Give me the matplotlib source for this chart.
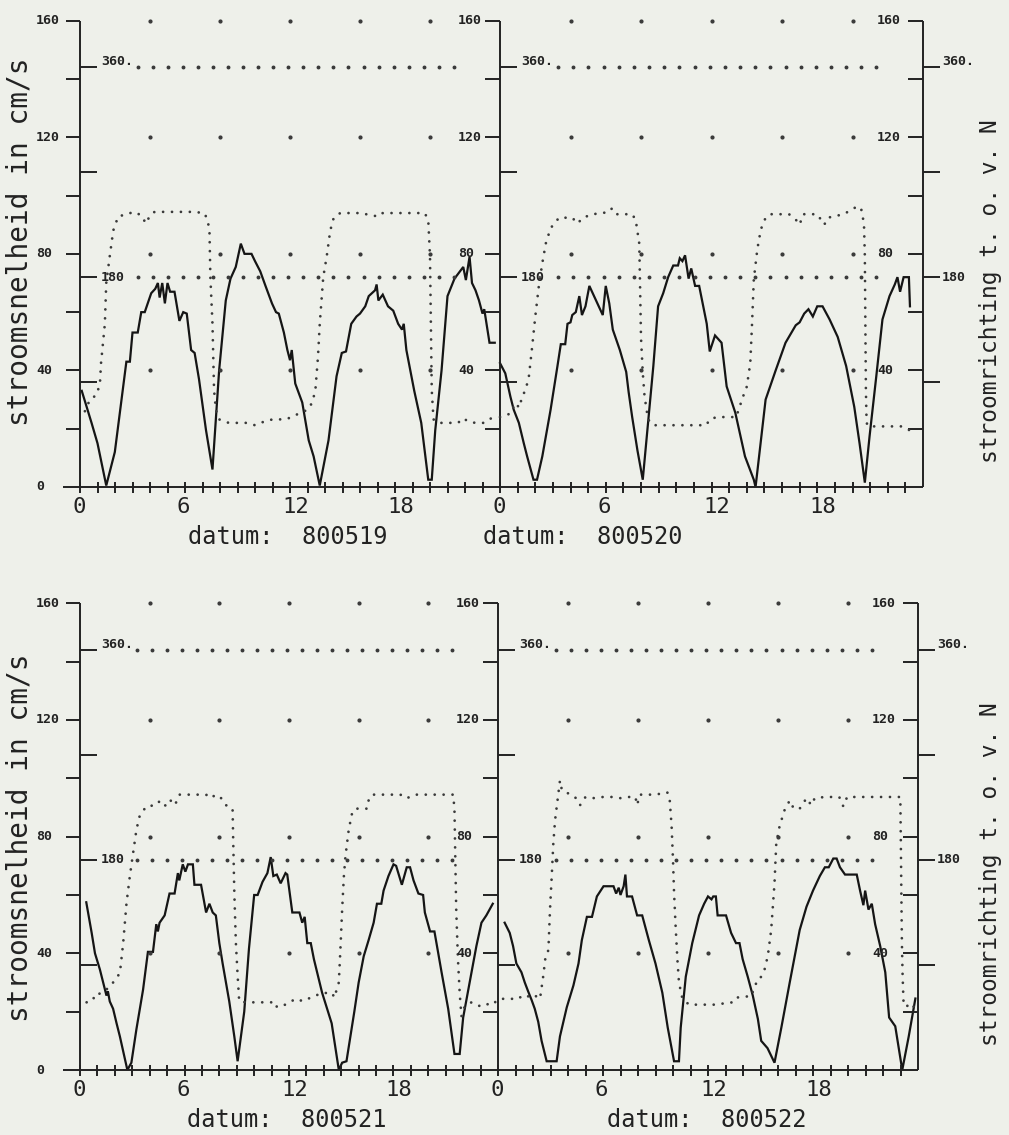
import numpy as np
import matplotlib
matplotlib.use("Agg")
import matplotlib.pyplot as plt

# ---------------- data (hours, speed cm/s, direction degrees) ----------------
tl_speed_h = [0.1, 0.66, 1.0, 1.5, 1.99, 2.65, 2.85, 3.0, 3.3, 3.5, 3.7, 3.87, 4.07, 4.3, 4.45, 4.55, 4.7, 4.85, 5.0, 5.15,
              5.4, 5.68, 5.9, 6.1, 6.35, 6.55, 6.8, 7.2, 7.57, 7.95, 8.33, 8.6, 8.9, 9.19, 9.4, 9.8, 10.0, 10.3, 10.6, 10.97,
              11.2, 11.36, 11.65, 11.85, 12.0, 12.1, 12.3, 12.7, 13.07, 13.35, 13.7, 14.2, 14.66, 14.96, 15.2, 15.5, 15.8,
              16.0, 16.3, 16.5, 16.86, 16.95, 17.05, 17.3, 17.6, 17.9, 18.18, 18.4, 18.5, 18.65, 19.1, 19.5, 19.9, 20.1,
              20.3, 20.66, 21.0, 21.4, 21.9, 22.05, 22.26, 22.4, 22.6, 22.8, 23.0, 23.1, 23.4, 23.7]
tl_speed = [33, 22, 15, 0.5, 12, 43, 43, 53, 53, 60, 60, 63, 66.5, 68, 70, 65, 70, 63, 70, 67,
            67, 57, 60, 59.5, 47, 46, 37, 19.5, 6, 40, 64, 71.5, 75.5, 83.5, 80, 80, 77.5, 74, 69, 63,
            60, 59.5, 53, 47, 43.5, 47, 35.5, 29, 16, 10.5, 0.5, 16, 38, 46, 46.5, 56, 58.5,
            59.5, 62, 65.5, 67.5, 69.5, 64, 66, 62, 60.5, 56, 54, 56, 47, 33, 22, 2.5, 2.5,
            19.5, 40, 65.5, 71.5, 75.5, 71, 79, 70, 67.5, 64, 59.5, 61, 49.5, 49.5]
tl_dir_h = [0.28, 0.57, 0.95, 1.14, 1.2, 1.42, 1.5, 1.7, 1.9, 2.18, 2.65, 3.1, 3.5, 3.77, 4.0, 4.26, 5.5, 6.5, 7.1, 7.3,
            7.4, 7.45, 7.57, 7.66, 7.77, 7.95, 8.5, 9.47, 10.0, 10.5, 11.0, 11.74, 12.1, 12.5, 12.97, 13.26, 13.45, 13.6,
            13.7, 13.9, 14.1, 14.3, 14.5, 14.87, 16.0, 17.05, 17.3, 18.5, 19.7, 19.9, 20.0, 20.05, 20.1, 20.2, 20.45,
            21.6, 21.9, 22.2, 22.6, 23.1, 23.5, 23.9]
tl_dir = [65, 75, 79, 89, 106, 140, 175, 198, 220, 232, 234, 236, 233, 226, 233, 236, 236, 236, 235, 229,
          218, 180, 140, 83, 66, 58, 55, 55, 53, 56, 58, 58, 60, 63, 66, 72, 83, 112,
          140, 180, 198, 220, 231, 235, 235, 232, 235, 235, 235, 229, 198, 140, 83, 58, 55,
          55, 59, 56, 55, 55, 59, 60]

tr_speed_h = [0.0, 0.3, 0.59, 0.78, 1.07, 1.35, 1.54, 1.9, 2.1, 2.4, 2.87, 3.26, 3.45, 3.7, 3.83, 4.0, 4.1, 4.3, 4.5, 4.65,
              4.85, 5.07, 5.83, 6.0, 6.2, 6.4, 6.8, 7.16, 7.3, 7.5, 7.8, 8.1, 8.4, 8.7, 8.97, 9.26, 9.54, 9.83, 10.1, 10.2,
              10.35, 10.5, 10.7, 10.85, 11.07, 11.3, 11.73, 11.9, 12.2, 12.57, 12.86, 13.35, 13.9, 14.4, 14.5, 15.07,
              15.64, 16.2, 16.78, 17.0, 17.26, 17.5, 17.75, 18.0, 18.3, 18.7, 19.16, 19.64, 20.1, 20.4, 20.7, 20.97,
              21.35, 21.7, 22.1, 22.4, 22.55, 22.7, 22.9, 23.2, 23.26]
tr_speed = [42.5, 39, 31, 26.5, 22, 15, 10.5, 2.5, 2.5, 10.5, 26.5, 41.5, 49, 49, 56, 56.5, 59, 60, 65.5, 59,
            62, 69, 59, 69, 63, 54, 47, 39.5, 32.5, 24, 12.5, 2.5, 22, 41.5, 62, 66.5, 72, 76, 76, 78.5,
            77.5, 79.5, 71.5, 75, 69, 69, 56, 46.5, 52, 49.5, 34.5, 25.5, 10.5, 2.5, 0, 30,
            40, 49.5, 55.5, 56.5, 59.5, 61, 58.5, 62, 62, 57.5, 51.5, 41.5, 27.5, 15, 1.5, 17.5,
            38, 57.5, 65.5, 69.5, 72, 67, 72, 72, 62]
tr_dir_h = [0.0, 0.6, 0.86, 1.1, 1.26, 1.45, 1.64, 1.83, 2.0, 2.2, 2.4, 2.6, 2.87, 3.35, 4.1, 4.4, 4.7, 5.26, 5.8, 6.2,
            6.35, 6.6, 7.5, 7.7, 7.9, 7.95, 8.0, 8.1, 8.2, 8.4, 8.7, 11.7, 11.9, 12.3, 13.4, 13.6, 13.8, 14.0, 14.2,
            14.3, 14.4, 14.6, 14.8, 15.07, 15.35, 16.4, 16.8, 17.0, 17.2, 18.0, 18.4, 18.6, 19.5, 20.3, 20.5, 20.65,
            20.7, 20.73, 20.76, 20.8, 20.9, 22.8, 23.2, 23.45]
tr_dir = [60, 63, 72, 68, 78, 83, 95, 121, 146, 172, 192, 209, 222, 231, 231, 226, 231, 234, 235, 236,
          239, 234, 234, 229, 209, 170, 128, 98, 78, 58, 53, 53, 58, 60, 60, 69, 78, 86, 106,
          140, 178, 204, 221, 231, 234, 234, 229, 225, 234, 234, 225, 231, 234, 241, 238, 226,
          198, 140, 83, 55, 52, 52, 49, 46]

bl_speed_h = [0.36, 0.67, 0.86, 1.14, 1.33, 1.52, 1.6, 1.71, 1.9, 2.1, 2.29, 2.57, 2.72, 2.95, 3.24, 3.62, 3.9, 4.19,
              4.38, 4.47, 4.57, 4.86, 5.14, 5.43, 5.62, 5.7, 5.9, 6.05, 6.2, 6.48, 6.57, 6.95, 7.24, 7.43, 7.62, 7.8,
              8.0, 8.19, 8.38, 8.57, 8.86, 9.05, 9.43, 9.7, 10.0, 10.2, 10.48, 10.76, 10.95, 11.1, 11.3, 11.52, 11.8,
              11.9, 12.19, 12.6, 12.76, 12.9, 13.05, 13.25, 13.43, 13.9, 14.45, 14.86, 15.05, 15.3, 15.75, 16.0,
              16.29, 16.57, 16.86, 17.05, 17.3, 17.43, 17.71, 18.0, 18.15, 18.48, 18.76, 18.95, 19.15, 19.43, 19.7,
              19.8, 20.1, 20.35, 20.57, 20.76, 21.14, 21.5, 21.8, 22.0, 22.48, 22.76, 23.05, 23.33, 23.7]
bl_speed = [57.5, 47, 40, 34.5, 30, 25.5, 27, 23.5, 21, 16, 11.5, 4, 0, 2.5, 14, 27.5, 40.5, 40.5,
            50, 47.5, 50.5, 53, 60.5, 60.5, 67.5, 65, 70.5, 68, 70.5, 70.5, 63.5, 63.5, 54, 57, 54, 53,
            43.5, 36.5, 30, 23.5, 11.5, 3, 20, 41.5, 60, 60, 64.5, 67.5, 73, 66.5, 67, 64, 67.5,
            67, 54, 54, 50.5, 52.5, 43.5, 43.5, 38, 26.5, 16, 0, 2.5, 3, 20, 30,
            39, 44.5, 50.5, 57, 57, 61.5, 66.5, 70.5, 70, 63.5, 69.5, 69.5, 65, 60.5, 60,
            54, 47.5, 47.5, 40, 33.5, 21, 5.5, 5.5, 18, 33.5, 42.5, 50.5, 53, 57]
bl_dir_h = [0.38, 0.67, 0.95, 1.14, 1.52, 1.9, 2.29, 2.48, 2.67, 2.86, 3.05, 3.24, 3.43, 3.81, 4.38, 4.6, 4.95, 5.2,
            5.45, 5.71, 6.5, 7.24, 7.5, 7.8, 8.1, 8.38, 8.76, 8.8, 8.86, 8.95, 9.05, 9.14, 9.52, 11.24, 11.3, 11.43,
            11.8, 12.38, 12.8, 13.24, 13.9, 14.48, 14.6, 14.86, 14.95, 15.05, 15.15, 15.24, 15.43, 15.62, 15.8,
            16.48, 16.57, 16.76, 18.4, 18.67, 19.0, 19.3, 21.43, 21.5, 21.55, 21.6, 21.7, 21.8, 21.9, 22.1, 22.48,
            22.9, 23.3, 23.6, 23.9]
bl_dir = [58, 62, 61, 66, 69, 75, 83, 109, 143, 166, 186, 206, 218, 226, 227, 231, 226, 231,
          227, 236, 236, 236, 233, 236, 233, 227, 224, 194, 152, 109, 81, 59, 58, 58, 54, 55,
          56, 61, 59, 62, 66, 66, 62, 75, 103, 137, 166, 183, 206, 220, 224,
          224, 231, 236, 236, 233, 234, 236, 236, 223, 180, 138, 95, 66, 46, 55, 58,
          55, 55, 59, 58]

br_speed_h = [0.38, 0.67, 0.86, 1.05, 1.34, 1.53, 1.72, 1.92, 2.1, 2.3, 2.49, 2.78, 3.35, 3.54, 3.93, 4.31, 4.6, 4.79,
              5.08, 5.37, 5.65, 6.03, 6.6, 6.75, 6.9, 7.0, 7.18, 7.28, 7.37, 7.66, 7.95, 8.24, 8.62, 9.0, 9.39, 9.7,
              10.06, 10.34, 10.44, 10.73, 11.1, 11.49, 11.78, 12.0, 12.2, 12.3, 12.45, 12.55, 13.03, 13.32, 13.6,
              13.8, 13.98, 14.27, 14.56, 14.85, 15.04, 15.4, 15.8, 16.19, 16.67, 17.24, 17.63, 18.0, 18.39, 18.68,
              18.9, 19.16, 19.35, 19.54, 19.83, 20.5, 20.69, 20.88, 20.98, 21.17, 21.36, 21.55, 21.84, 22.13, 22.35,
              22.7, 23.1, 23.47, 23.85]
br_speed = [50.5, 47, 42.5, 36.5, 33.5, 30, 27, 24, 21, 16.5, 10, 3, 3, 11.5, 21.5, 29, 36.5, 44.5,
            52.5, 52.5, 59.5, 63, 63, 60.5, 62.5, 60, 63, 67, 59.5, 59.5, 53, 53, 44.5, 36.5, 26.5, 14.5,
            3, 3, 14.5, 32, 43.5, 53, 57, 59.5, 58.5, 59.5, 59.5, 53, 53, 47, 43.5,
            43.5, 38, 32, 25.5, 17.5, 10, 7.5, 2.5, 14.5, 30, 48, 56, 61.5, 66.5, 69.5,
            69.5, 72.5, 72.5, 69.5, 67, 67, 61.5, 56.5, 61.5, 55, 57, 50, 42.5, 33.5, 18,
            15, 0, 11.5, 24.5]
br_dir_h = [0.29, 0.86, 1.15, 1.5, 1.92, 2.2, 2.4, 2.59, 2.7, 2.78, 2.88, 2.97, 3.07, 3.16, 3.26, 3.45, 3.54, 3.65,
            4.02, 4.4, 4.69, 5.0, 5.5, 6.0, 6.5, 7.0, 7.5, 7.85, 7.95, 8.1, 9.0, 9.67, 9.8, 9.92, 10.0, 10.06, 10.15,
            10.25, 10.34, 10.54, 10.92, 12.36, 13.4, 13.6, 14.18, 14.46, 14.66, 14.85, 15.0, 15.23, 15.42, 15.61,
            15.8, 15.9, 16.09, 16.38, 16.67, 16.9, 17.24, 17.63, 17.9, 18.1, 18.68, 19.5, 19.73, 19.95, 22.99,
            23.02, 23.05, 23.08, 23.12, 23.18, 23.4, 23.56, 23.8]
br_dir = [61, 61, 63, 61, 65, 63, 61, 81, 95, 98, 103, 137, 166, 194, 214, 237, 248, 240,
          237, 234, 227, 234, 233, 234, 234, 233, 234, 234, 227, 236, 236, 238, 234, 209, 180, 152, 123,
          95, 75, 61, 56, 56, 58, 62, 63, 63, 71, 78, 79, 86, 98, 120,
          160, 194, 209, 223, 231, 224, 224, 233, 227, 233, 234, 234, 226, 234, 234,
          194, 150, 109, 81, 55, 55, 52, 55]

dates = ["800519", "800520", "800521", "800522"]
x_tick_labels = ["0", "6", "12", "18"]
speed_ticks = [0, 40, 80, 120, 160]
dir_ticks = [180, 360]

# ---------------- layout ----------------
W, H = 1009, 1135
INK = "#222222"
DOT = "#3a3a3a"
BG = "#eef0ea"
MONO = "DejaVu Sans Mono"
PT = 72.0 / 100.0  # points per pixel

fig = plt.figure(figsize=(W / 100, H / 100), dpi=100)
fig.patch.set_facecolor(BG)

# (x0, y_top, x1, y_bottom) in pixels, side, speed_h, speed, dir_h, dir, date, datum centre x
panels = [
    ((80, 20.7, 500, 487), "left", tl_speed_h, tl_speed, tl_dir_h, tl_dir, dates[0], 288),
    ((500, 20.7, 923, 487), "right", tr_speed_h, tr_speed, tr_dir_h, tr_dir, dates[1], 583),
    ((80, 603.3, 498, 1070), "left", bl_speed_h, bl_speed, bl_dir_h, bl_dir, dates[2], 287),
    ((498, 603.3, 918, 1070), "right", br_speed_h, br_speed, br_dir_h, br_dir, dates[3], 707),
]


def ann(ax, x, y, txt, dx, dy, **kw):
    ax.annotate(txt, xy=(x, y), xycoords="data", xytext=(dx * PT, dy * PT),
                textcoords="offset points", annotation_clip=False, color=INK, **kw)


small = dict(family=MONO, fontsize=9.5, fontweight="bold")

for (x0, yt, x1, yb), side, sh, sv, dh, dv, date, dx_c in panels:
    ax = fig.add_axes([x0 / W, 1 - yb / H, (x1 - x0) / W, (yb - yt) / H])
    ax.set_xlim(0, 24)
    ax.set_ylim(0, 160)
    ax.set_axis_off()
    tw = ax.twinx()
    tw.set_ylim(0, 400)
    tw.set_axis_off()
    pxh = (x1 - x0) / 24.0
    pxs = (yb - yt) / 160.0
    lw = 1.4
    line_kw = dict(color=INK, lw=lw, clip_on=False, solid_capstyle="butt")

    # data
    tw.plot(dh, dv, color=DOT, lw=2.0, linestyle=(0, (0.01, 3.2)), dash_capstyle="round", clip_on=False)
    ax.plot(sh, sv, color="#151515", lw=1.6, clip_on=False, solid_joinstyle="miter")

    # axes lines
    xstart = -17 / pxh if side == "left" else 0
    ax.plot([xstart, 24], [0, 0], **line_kw)
    axis_positions = [0] if side == "left" else [0, 24]
    for xa in axis_positions:
        ax.plot([xa, xa], [0, 160], **line_kw)
        for s in range(20, 161, 20):
            L = 14 if (side == "left") else 15
            ax.plot([xa - L / pxh, xa], [s, s], **line_kw)
        for d in (90, 180, 270, 360):
            tw.plot([xa, xa + 17 / pxh], [d, d], **line_kw)

    # x ticks
    ax.vlines(np.arange(0, 24), -6 / pxs, 5 / pxs, colors=INK, lw=lw, clip_on=False)
    for lab in x_tick_labels:
        ann(ax, float(lab), 0, lab, -8, -20, ha="left", va="center", family=MONO, fontsize=16)

    # y tick labels
    if side == "left":
        for s in speed_ticks:
            ann(ax, 0, s, str(s), -44, 0, ha="left", va="center", **small)
        ann(tw, 0, 360, "360.", 21, -1, ha="left", va="bottom", **small)
        ann(tw, 0, 180, "180", 21, 0, ha="left", va="center", **small)
    else:
        for s in speed_ticks[1:]:
            ann(ax, 0, s, str(s), -42, 0, ha="left", va="center", **small)
            ann(ax, 24, s, str(s), -46, 0, ha="left", va="center", **small)
        ann(tw, 0, 360, "360.", 21, -1, ha="left", va="bottom", **small)
        ann(tw, 0, 180, "180", 21, 0, ha="left", va="center", **small)
        ann(tw, 24, 360, "360.", 19, -1, ha="left", va="bottom", **small)
        ann(tw, 24, 180, "180", 19, 0, ha="left", va="center", **small)

    # reference dotted lines at 180 and 360 degrees
    gx = np.arange(3.3, 21.5, 0.86)
    for d in (180, 360):
        tw.plot(gx, np.full_like(gx, d), ls="none", marker="o", ms=1.8, color=DOT)
    # grid dots
    gh, gs = np.meshgrid([4, 8, 12, 16, 20], [40, 80, 120, 160])
    ax.plot(gh.ravel(), gs.ravel(), ls="none", marker="o", ms=2.0, color=DOT, clip_on=False)

    # datum
    fig.text(dx_c / W, 1 - (yb + 50) / H, "datum:  " + date, ha="center", va="center",
             family=MONO, fontsize=17, color=INK)

# axis titles
for yc in (242, 838):
    fig.text(20 / W, 1 - yc / H, "stroomsnelheid in cm/s", rotation=90, ha="center", va="center",
             family=MONO, fontsize=20, color=INK)
for yc in (291, 874):
    fig.text(990 / W, 1 - yc / H, "stroomrichting t. o. v. N", rotation=90, ha="center", va="center",
             family=MONO, fontsize=16.5, color=INK)

fig.savefig("out.png", dpi=100, facecolor=BG)
